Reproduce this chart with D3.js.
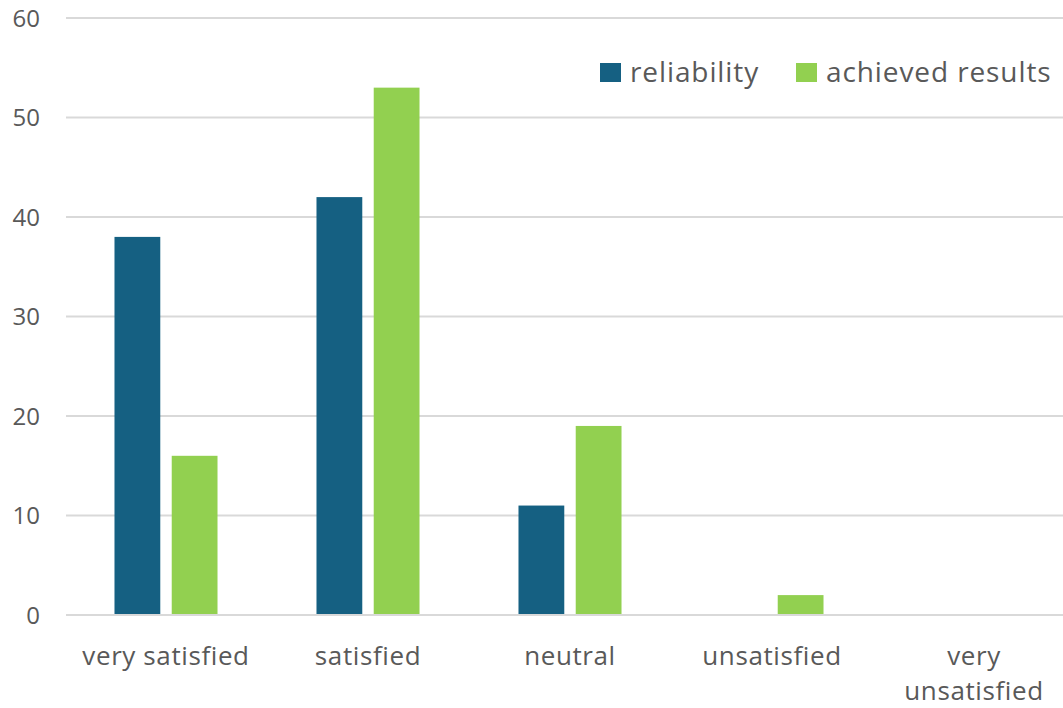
<!DOCTYPE html>
<html><head><meta charset="utf-8">
<script src="https://cdn.jsdelivr.net/npm/d3@7"></script>
<style>body{margin:0;background:#fff}svg{display:block;font-family:"Open Sans",Roboto,sans-serif}</style>
</head><body><svg id="c" width="1063" height="708"></svg>
<script>
const categories = ["very satisfied","satisfied","neutral","unsatisfied","very unsatisfied"];
const seriesNames = ["reliability","achieved results"];
const reliability = [38,42,11,0,0];
const achievedResults = [16,53,19,2,0];
const yTicks = [0,10,20,30,40,50,60];
const colors = ["#156082","#92D050"];

(function(){
const svg = d3.select("#c");
const gLeft = 66, gRight = 1063, mTop = 18, mBottom = 615;
const x0 = d3.scaleBand().domain(categories).range([65,1075]).padding(0);
const bw = x0.bandwidth();
const x1 = d3.scaleBand().domain(seriesNames).range([bw*0.245, bw*0.755]).paddingInner(0.2);
const y = d3.scaleLinear().domain([0,60]).range([mBottom,mTop]);

// gridlines
svg.append("g").selectAll("line").data(yTicks).join("line")
  .attr("x1",gLeft).attr("x2",gRight).attr("y1",d=>y(d)).attr("y2",d=>y(d))
  .attr("stroke","#d9d9d9").attr("stroke-width",2);

// y labels
svg.append("g").selectAll("text").data(yTicks).join("text")
  .attr("x",40).attr("y",d=>y(d)).attr("dy","0.36em").attr("text-anchor","end")
  .attr("fill","#595959").attr("font-size",24).text(d=>d);

const data = categories.map((c,i)=>({c, vals:[reliability[i], achievedResults[i]]}));
const g = svg.append("g").selectAll("g").data(data).join("g")
  .attr("transform",d=>`translate(${x0(d.c)},0)`);
g.selectAll("rect").data(d=>d.vals.map((v,j)=>({s:seriesNames[j],v,j})).filter(e=>e.v>0)).join("rect")
  .attr("x",e=>x1(e.s)).attr("width",x1.bandwidth())
  .attr("y",e=>y(e.v)).attr("height",e=>y(0)-y(e.v)-1)
  .attr("fill",e=>colors[e.j]);

// x labels
const xl = svg.append("g").selectAll("text").data(categories).join("text")
  .attr("x",d=>x0(d)+bw/2).attr("y",665).attr("text-anchor","middle")
  .attr("fill","#595959").attr("font-size",26).attr("letter-spacing",0.6);
xl.each(function(d){
  const t = d3.select(this);
  if(d==="very unsatisfied"){
    t.append("tspan").attr("x",x0(d)+bw/2).text("very");
    t.append("tspan").attr("x",x0(d)+bw/2).attr("dy",35).text("unsatisfied");
  } else t.text(d);
});

// legend
const legX = [600, 796];
const lg = svg.append("g").selectAll("g").data(seriesNames).join("g")
  .attr("transform",(d,i)=>`translate(${legX[i]},63)`);
lg.append("rect").attr("width",21).attr("height",19).attr("fill",(d,i)=>colors[i]);
lg.append("text").attr("x",30).attr("y",19).attr("fill","#595959").attr("font-size",28)
  .attr("letter-spacing",0.9).text(d=>d);
})();
</script></body></html>
